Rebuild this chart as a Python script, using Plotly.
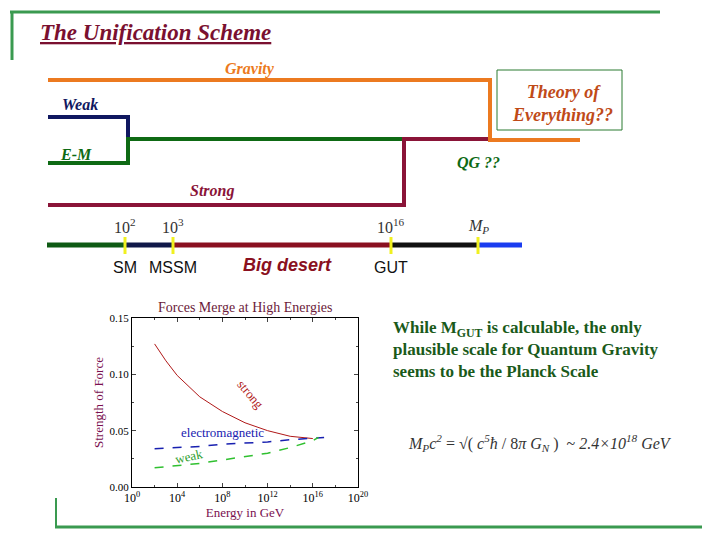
import plotly.graph_objects as go

# inset chart data (x = log10 of energy in GeV)
strong_x = [2, 3, 4, 6, 8, 10, 12, 14, 16]
strong_y = [0.127, 0.112, 0.099, 0.080, 0.067, 0.057, 0.050, 0.045, 0.043]
em_x = [2, 4, 6, 8, 10, 12, 14, 16, 17]
em_y = [0.034, 0.035, 0.036, 0.038, 0.039, 0.040, 0.042, 0.043, 0.044]
weak_x = [2, 4, 6, 8, 10, 12, 14, 16, 16.5]
weak_y = [0.017, 0.019, 0.021, 0.024, 0.027, 0.030, 0.035, 0.041, 0.044]
x_tick_vals = [0, 4, 8, 12, 16, 20]
x_tick_text = ['10<sup>0</sup>', '10<sup>4</sup>', '10<sup>8</sup>', '10<sup>12</sup>', '10<sup>16</sup>', '10<sup>20</sup>']

# unification diagram, slide pixel coordinates
gravity_x = [48, 490, 490, 580]
gravity_y = [80, 80, 140, 140]
weak_line_x = [48, 128, 128]
weak_line_y = [117, 117, 139]
em_line_x = [48, 128, 128, 404]
em_line_y = [163, 163, 139, 139]
strong_line_x = [48, 404, 404, 490]
strong_line_y = [205, 205, 139, 139]

# energy scale bar
bar_edges = [47, 125, 173, 391, 478, 522]
bar_colors = ['#0e5a14', '#101848', '#8a1020', '#111111', '#1a3cf0']
marks_x = [125, 173, 391, 478]
marks_top = ['10<sup>2</sup>', '10<sup>3</sup>', '10<sup>16</sup>', '<i>M<sub>P</sub></i>']
marks_bottom = ['SM', 'MSSM', 'GUT', '']

DKRED = '#7a1030'
GREEN = '#3a9a50'
SERIF = 'Liberation Serif'
OFF = 8  # page body margin

fig = go.Figure()

# diagram lines on the full-slide hidden axis
for xs, ys, c in [(weak_line_x, weak_line_y, '#101860'), (em_line_x, em_line_y, '#0e6a14'),
                  (strong_line_x, strong_line_y, '#8a1438'), (gravity_x, gravity_y, '#ec7a20')]:
    fig.add_trace(go.Scatter(x=xs, y=ys, mode='lines', line=dict(color=c, width=4),
                             showlegend=False, hoverinfo='skip'))

for i, c in enumerate(bar_colors):
    fig.add_trace(go.Scatter(x=bar_edges[i:i + 2], y=[245, 245], mode='lines', line=dict(color=c, width=5),
                             showlegend=False, hoverinfo='skip'))
for mx, top, bot in zip(marks_x, marks_top, marks_bottom):
    fig.add_trace(go.Scatter(x=[mx, mx], y=[237, 254], mode='lines', line=dict(color='#f0f020', width=3),
                             showlegend=False, hoverinfo='skip'))
    fig.add_annotation(x=mx, y=226, text=top, showarrow=False,
                       font=dict(family=SERIF, size=16, color='#333333'))
    if bot:
        fig.add_annotation(x=mx, y=267, text=bot, showarrow=False,
                           font=dict(family='Liberation Sans', size=16, color='#111111'))
fig.add_annotation(x=287, y=265, text='<b><i>Big desert</i></b>', showarrow=False,
                   font=dict(family='Liberation Sans', size=18, color='#8a1020'))

# inset chart
fig.add_trace(go.Scatter(x=strong_x, y=strong_y, mode='lines', line=dict(color='#b01818', width=1),
                         xaxis='x2', yaxis='y2', showlegend=False))
fig.add_trace(go.Scatter(x=em_x, y=em_y, mode='lines', line=dict(color='#1820b0', width=1.5, dash='dash'),
                         xaxis='x2', yaxis='y2', showlegend=False))
fig.add_trace(go.Scatter(x=weak_x, y=weak_y, mode='lines', line=dict(color='#30c030', width=1.5, dash='dash'),
                         xaxis='x2', yaxis='y2', showlegend=False))
fig.add_annotation(x=10.5, y=0.082, xref='x2', yref='y2', text='strong', showarrow=False, textangle=50,
                   font=dict(family=SERIF, size=13, color='#b01818'))
fig.add_annotation(x=8, y=0.048, xref='x2', yref='y2', text='electromagnetic', showarrow=False,
                   font=dict(family=SERIF, size=13, color='#1820b0'))
fig.add_annotation(x=5, y=0.027, xref='x2', yref='y2', text='weak', showarrow=False, textangle=-12,
                   font=dict(family=SERIF, size=13, color='#30a030'))

fig.update_layout(
    width=720, height=540, margin=dict(l=0, r=0, t=0, b=0, autoexpand=False),
    plot_bgcolor='white', paper_bgcolor='white',
    xaxis=dict(domain=[0, 1], range=[OFF, 720 + OFF], visible=False, anchor='y'),
    yaxis=dict(domain=[0, 1], range=[540 + OFF, OFF], visible=False, anchor='x'),
    xaxis2=dict(domain=[(132 - OFF) / 720, (358 - OFF) / 720], range=[0, 20], anchor='y2',
                tickvals=x_tick_vals, ticktext=x_tick_text,
                ticks='inside', ticklen=4, minor=dict(ticks='inside', ticklen=2, dtick=2),
                showgrid=False, zeroline=False, mirror='allticks', showline=True, linecolor='black',
                automargin=False, tickfont=dict(family=SERIF, size=12, color='black'),
                title=dict(text='Energy in GeV', font=dict(family=SERIF, size=13, color='#7a1050'), standoff=0)),
    yaxis2=dict(domain=[1 - (487 - OFF) / 540, 1 - (318 - OFF) / 540], range=[0, 0.15], anchor='x2',
                tickvals=[0, 0.05, 0.10, 0.15],
                ticktext=['0.00', '0.05', '0.10', '0.15'], ticks='inside', ticklen=4,
                minor=dict(ticks='inside', ticklen=2, dtick=0.025), automargin=False,
                showgrid=False, zeroline=False, mirror='allticks', showline=True, linecolor='black',
                tickfont=dict(family=SERIF, size=11, color='black'),
                title=dict(text='Strength of Force', font=dict(family=SERIF, size=13, color='#7a1050'), standoff=2)),
)

# slide decorations
for x0, x1, y0, y1, w in [(10, 660, 12, 12, 3), (12, 12, 11, 60, 3), (55, 702, 527, 527, 3), (56, 56, 498, 527, 2)]:
    fig.add_shape(type='line', xref='x', yref='y', x0=x0, x1=x1, y0=y0, y1=y1, line=dict(color=GREEN, width=w))
fig.add_shape(type='rect', xref='x', yref='y', x0=497, x1=622, y0=70, y1=130,
              line=dict(color='#2a7a30', width=1))

texts = [
    (38, 32, '<b><i><u>The Unification Scheme</u></i></b>', DKRED, 23, 'left'),
    (250, 69, '<b><i>Gravity</i></b>', '#ec7a20', 16, 'center'),
    (60, 104, '<b><i>Weak</i></b>', '#101860', 16, 'left'),
    (58, 154, '<b><i>E-M</i></b>', '#0e6a14', 16, 'left'),
    (212, 191, '<b><i>Strong</i></b>', '#8a1438', 16, 'center'),
    (478, 162, '<b><i>QG ??</i></b>', '#0e6a14', 16, 'center'),
    (562, 103, '<b><i>Theory of<br>Everything??</i></b>', '#c04a18', 18, 'center'),
    (245, 307, 'Forces Merge at High Energies', '#6b1a3a', 14, 'center'),
]
for x, y, t, c, s, al in texts:
    fig.add_annotation(x=x, y=y, text=t, showarrow=False, align=al, xanchor=al,
                       font=dict(family=SERIF, size=s, color=c))

fig.add_annotation(x=391, y=349, showarrow=False, xanchor='left', align='left',
                   text='<b>While M<sub>GUT</sub> is calculable, the only<br>plausible scale for Quantum Gravity'
                        '<br>seems to be the Planck Scale</b>',
                   font=dict(family=SERIF, size=17, color='#1a5a1a'))
fig.add_annotation(x=540, y=443, showarrow=False,
                   text='<i>M<sub>P</sub>c<sup>2</sup></i> = √( <i>c<sup>5</sup>ħ</i> / 8<i>π G<sub>N</sub></i> )'
                        '  ~ <i>2.4×10<sup>18</sup> GeV</i>',
                   font=dict(family=SERIF, size=16, color='#333333'))

fig.write_html("out.html")
